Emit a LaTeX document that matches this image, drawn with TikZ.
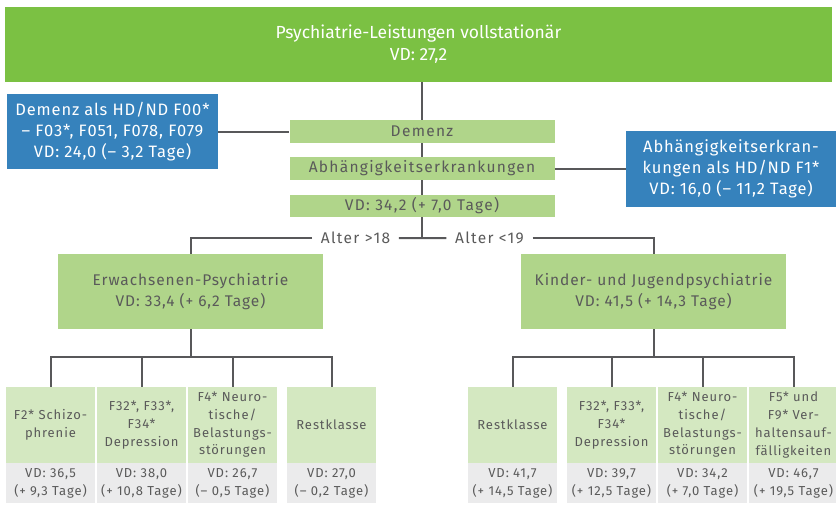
\documentclass[tikz,border=0pt]{standalone}
\usepackage{fontspec}
\setmainfont{Fira Sans}
\newfontfamily\midfont{Fira Sans}[LetterSpace=8.4]
\newfontfamily\infofont{Fira Sans}[LetterSpace=5]
\newfontfamily\branchfont{Fira Sans}[LetterSpace=6]
\newfontfamily\leaffont{Fira Sans}[LetterSpace=7]
\usetikzlibrary{positioning}
\definecolor{headgreen}{HTML}{7BC143}
\definecolor{midgreen}{HTML}{B0D58A}
\definecolor{leafgreen}{HTML}{D4E8C1}
\definecolor{valgray}{HTML}{EBEBEC}
\definecolor{infoblue}{HTML}{3682BC}
\definecolor{linegray}{HTML}{58585A}
\definecolor{txtgray}{HTML}{5A5A5A}

\begin{document}
\begin{tikzpicture}[x=1pt,y=-1pt,
    box/.style={rectangle,inner sep=0pt,align=center,text=txtgray},
    head/.style={box,fill=headgreen,text=white,minimum width=827pt,minimum height=75pt,font=\fontsize{17.5}{22}\selectfont},
    info/.style={box,fill=infoblue,text=white,minimum height=75pt,font=\infofont\fontsize{16.5}{21}\selectfont},
    mid/.style={box,fill=midgreen,minimum width=265pt,minimum height=23pt,font=\midfont\fontsize{15.5}{18}\selectfont},
    branch/.style={box,fill=midgreen,minimum width=265pt,minimum height=75pt,font=\branchfont\fontsize{15.5}{21.5}\selectfont},
    leaf/.style={box,fill=leafgreen,minimum width=89pt,minimum height=76pt,font=\leaffont\fontsize{13}{17.7}\selectfont},
    val/.style={box,fill=valgray,minimum width=89pt,minimum height=40pt,font=\leaffont\fontsize{13}{17.7}\selectfont},
    age/.style={inner xsep=8.5pt,inner ysep=0pt,text=txtgray,font=\midfont\fontsize{15.5}{16}\selectfont},
    link/.style={draw=linegray,line width=2pt}]
    \useasboundingbox (0,0) rectangle (836,530);

    % top and the two code boxes
    \node[head] (top) at (418.5,44.5) {Psychiatrie-Leistungen vollstationär\\VD: 27,2};
    \node[mid] (dem) at (422,131.5) {Demenz};
    \node[mid] (abh) at (422,168.5) {Abhängigkeitserkrankungen};
    \node[mid,minimum height=22pt] (vd) at (422,206) {VD: 34,2 (+ 7,0 Tage)};
    \node[info,minimum width=211pt] (demL) at (112.5,131.5) {Demenz als HD/ND F00*\\– F03*, F051, F078, F079\\VD: 24,0 (– 3,2 Tage)};
    \node[info,minimum width=210pt,minimum height=76pt] (abhR) at (731,168.5) {Abhängigkeitserkran-\\kungen als HD/ND F1*\\VD: 16,0 (– 11,2 Tage)};

    % age split
    \node[age] (a18) at (355.5,238) {Alter >18};
    \node[age] (a19) at (489.5,238) {Alter <19};
    \node[branch] (erw) at (190.5,291.5) {Erwachsenen-Psychiatrie\\VD: 33,4 (+ 6,2 Tage)};
    \node[branch] (kjp) at (653.5,291.5) {Kinder- und Jugendpsychiatrie\\VD: 41,5 (+ 14,3 Tage)};

    % adults
    \node[leaf] (e1) at (50.5,425) {F2* Schizo-\\phrenie};
    \node[leaf] (e2) at (141.5,425) {F32*, F33*,\\F34*\\Depression};
    \node[leaf] (e3) at (232.5,425) {F4* Neuro-\\tische/\\Belastungs-\\störungen};
    \node[leaf] (e4) at (331.5,425) {Restklasse};
    \node[val,below=0pt of e1] (e1v) {VD: 36,5\\(+ 9,3 Tage)};
    \node[val,below=0pt of e2] (e2v) {VD: 38,0\\(+ 10,8 Tage)};
    \node[val,below=0pt of e3] (e3v) {VD: 26,7\\(– 0,5 Tage)};
    \node[val,below=0pt of e4] (e4v) {VD: 27,0\\(– 0,2 Tage)};

    % children and youth
    \node[leaf] (k1) at (512.5,425) {Restklasse};
    \node[leaf] (k2) at (611.5,425) {F32*, F33*,\\F34*\\Depression};
    \node[leaf] (k3) at (702.5,425) {F4* Neuro-\\tische/\\Belastungs-\\störungen};
    \node[leaf] (k4) at (793.5,425) {F5* und\\F9* Ver-\\haltensauf-\\fälligkeiten};
    \node[val,below=0pt of k1] (k1v) {VD: 41,7\\(+ 14,5 Tage)};
    \node[val,below=0pt of k2] (k2v) {VD: 39,7\\(+ 12,5 Tage)};
    \node[val,below=0pt of k3] (k3v) {VD: 34,2\\(+ 7,0 Tage)};
    \node[val,below=0pt of k4] (k4v) {VD: 46,7\\(+ 19,5 Tage)};

    % connectors
    \draw[link] (top.south -| dem.north) -- (dem.north);
    \draw[link] (dem) -- (abh);
    \draw[link] (abh) -- (vd);
    \draw[link] (vd.south) -- ++(0,21) coordinate (fork);
    \draw[link] (demL) -- (dem);
    \draw[link] (abh) -- (abhR);
    \draw[link] (fork) -- (a18.east);
    \draw[link] (a18.west) -| (erw.north);
    \draw[link] (fork) -- (a19.west);
    \draw[link] (a19.east) -| (kjp.north);
    \draw[link] (erw.south) -- ++(0,28) coordinate (ebus);
    \draw[link] (kjp.south) -- ++(0,28) coordinate (kbus);
    \foreach \n in {e1,e2,e3,e4} \draw[link] (ebus) -| (\n.north);
    \foreach \n in {k1,k2,k3,k4} \draw[link] (kbus) -| (\n.north);
\end{tikzpicture}
\end{document}
